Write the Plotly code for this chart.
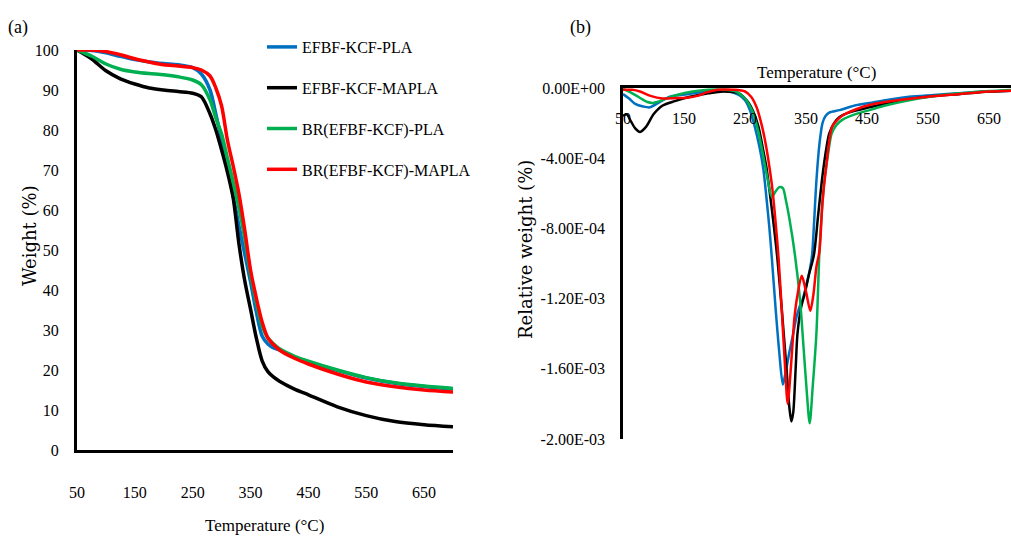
import plotly.graph_objects as go

# ---------------- Data ----------------
series_names = ["EFBF-KCF-PLA", "EFBF-KCF-MAPLA", "BR(EFBF-KCF)-PLA", "BR(EFBF-KCF)-MAPLA"]
series_colors = ["#0070C0", "#000000", "#00B050", "#FF0000"]

# (a) TGA: weight (%) vs temperature (°C)
tga_temp = [50, 75, 100, 125, 150, 175, 200, 225, 250, 265, 280, 290, 300, 310, 320,
            330, 340, 350, 360, 370, 380, 390, 400, 425, 450, 500, 550, 600, 650, 700]
tga_pla = [100, 99.9, 99.3, 98.4, 97.6, 97.0, 96.6, 96.3, 95.6, 94.0, 90.0, 84.0, 77.5, 71.0, 63.5,
           56.0, 49.0, 42.0, 34.5, 28.5, 26.5, 25.5, 25.0, 23.3, 22.0, 19.9, 18.0, 16.7, 15.9, 15.3]
tga_mapla = [100, 97.8, 94.8, 92.8, 91.5, 90.5, 90.0, 89.6, 89.2, 88.3, 84.0, 80.0, 75.0, 69.5, 63.0,
             51.5, 42.3, 35.2, 28.0, 22.3, 19.6, 18.2, 17.2, 15.3, 13.8, 10.8, 8.6, 7.1, 6.3, 5.8]
tga_br_pla = [100, 98.5, 96.5, 95.2, 94.5, 94.1, 93.8, 93.3, 92.5, 91.3, 87.5, 83.0, 79.0, 73.0, 67.0,
              60.5, 53.0, 44.0, 37.0, 31.0, 28.0, 26.5, 25.3, 23.5, 22.2, 20.0, 18.1, 16.8, 16.0, 15.4]
tga_br_mapla = [100, 100, 99.6, 98.8, 97.8, 97.0, 96.3, 96.0, 95.6, 95.0, 93.5, 90.5, 86.0, 77.5, 71.0,
                64.0, 55.0, 45.0, 38.0, 32.0, 28.0, 26.3, 25.0, 23.0, 21.5, 19.0, 17.0, 15.8, 15.0, 14.5]

# (b) DTG: relative weight (%) vs temperature (°C)
dtg_pla_temp = [50, 60, 70, 83, 94, 110, 127, 155, 185, 210, 225, 240, 250, 258, 266, 274, 280, 285,
                290, 294, 300, 306, 312, 316, 323, 329, 334, 339, 344, 350, 356, 360, 363, 367, 372,
                377, 382, 388, 405, 430, 454, 480, 519, 560, 600, 650, 686]
dtg_pla = [-0.35e-4, -0.6e-4, -0.9e-4, -1.05e-4, -1.1e-4, -0.8e-4, -0.5e-4, -0.35e-4, -0.2e-4, -0.15e-4,
           -0.2e-4, -0.4e-4, -0.7e-4, -1.26e-4, -2.2e-4, -3.4e-4, -4.6e-4, -6.2e-4, -8.0e-4, -9.7e-4,
           -12.5e-4, -15.0e-4, -16.9e-4, -16.3e-4, -15.0e-4, -14.0e-4, -13.1e-4, -12.5e-4, -12.1e-4,
           -11.3e-4, -10.4e-4, -9.5e-4, -7.8e-4, -5.3e-4, -3.2e-4, -2.0e-4, -1.6e-4, -1.4e-4, -1.26e-4,
           -1.0e-4, -0.86e-4, -0.7e-4, -0.5e-4, -0.4e-4, -0.3e-4, -0.2e-4, -0.15e-4]

dtg_mapla_temp = [50, 56, 63, 70, 78, 88, 100, 115, 135, 160, 190, 215, 240, 255, 263, 272, 279, 285,
                  290, 296, 303, 310, 318, 323, 326, 329, 333, 336, 342, 348, 355, 363, 370, 377, 383,
                  388, 396, 405, 420, 454, 500, 550, 600, 650, 686]
dtg_mapla = [-1.6e-4, -1.5e-4, -1.9e-4, -2.3e-4, -2.5e-4, -2.2e-4, -1.5e-4, -1.0e-4, -0.75e-4, -0.5e-4,
             -0.3e-4, -0.2e-4, -0.3e-4, -0.8e-4, -1.3e-4, -2.2e-4, -3.4e-4, -4.5e-4, -5.8e-4, -7.5e-4,
             -9.7e-4, -12.5e-4, -16.0e-4, -18.3e-4, -19.0e-4, -18.5e-4, -16.0e-4, -14.0e-4, -12.5e-4,
             -11.7e-4, -10.6e-4, -9.5e-4, -7.2e-4, -5.0e-4, -3.5e-4, -2.6e-4, -2.0e-4, -1.65e-4, -1.4e-4,
             -1.1e-4, -0.75e-4, -0.5e-4, -0.35e-4, -0.2e-4, -0.15e-4]

dtg_br_pla_temp = [50, 60, 75, 90, 99, 110, 125, 138, 164, 190, 215, 235, 250, 263, 272, 279, 286, 294,
                   300, 306, 312, 317, 323, 331, 340, 346, 351, 356, 361, 367, 372, 376, 380, 386, 392,
                   400, 410, 430, 454, 480, 519, 573, 620, 686]
dtg_br_pla = [-0.05e-4, -0.2e-4, -0.5e-4, -0.8e-4, -0.85e-4, -0.75e-4, -0.55e-4, -0.4e-4, -0.2e-4, -0.1e-4,
              -0.1e-4, -0.2e-4, -0.6e-4, -1.4e-4, -2.5e-4, -3.7e-4, -5.0e-4, -6.2e-4, -5.9e-4, -5.65e-4,
              -5.7e-4, -6.4e-4, -7.5e-4, -9.3e-4, -12.0e-4, -14.8e-4, -17.2e-4, -19.1e-4, -17.0e-4,
              -14.0e-4, -9.3e-4, -7.0e-4, -5.3e-4, -3.8e-4, -2.6e-4, -2.1e-4, -1.8e-4, -1.5e-4, -1.26e-4,
              -1.0e-4, -0.7e-4, -0.4e-4, -0.25e-4, -0.12e-4]

dtg_br_mapla_temp = [50, 65, 78, 95, 115, 135, 155, 172, 187, 205, 230, 250, 260, 269, 278, 285, 290, 295,
                     300, 305, 310, 315, 320, 324, 328, 331, 336, 343, 350, 357, 362, 367, 372, 377, 383,
                     393, 405, 416, 454, 500, 550, 600, 650, 686]
dtg_br_mapla = [-0.1e-4, -0.1e-4, -0.2e-4, -0.45e-4, -0.6e-4, -0.58e-4, -0.55e-4, -0.45e-4, -0.25e-4,
                -0.1e-4, -0.1e-4, -0.2e-4, -0.5e-4, -1.1e-4, -2.2e-4, -3.4e-4, -4.5e-4, -5.8e-4, -7.6e-4,
                -9.7e-4, -12.5e-4, -15.5e-4, -18.0e-4, -16.5e-4, -14.5e-4, -13.1e-4, -11.8e-4, -10.7e-4,
                -11.6e-4, -12.7e-4, -11.8e-4, -10.2e-4, -9.3e-4, -6.5e-4, -4.5e-4, -2.2e-4, -1.7e-4,
                -1.45e-4, -0.97e-4, -0.7e-4, -0.5e-4, -0.35e-4, -0.2e-4, -0.15e-4]

temp_ticks = [50, 150, 250, 350, 450, 550, 650]
weight_ticks = [0, 10, 20, 30, 40, 50, 60, 70, 80, 90, 100]
dtg_tickvals = [0, -4e-4, -8e-4, -1.2e-3, -1.6e-3, -2e-3]
dtg_ticktext = ["0.00E+00", "-4.00E-04", "-8.00E-04", "-1.20E-03", "-1.60E-03", "-2.00E-03"]

# ---------------- Figure ----------------
W, H = 1011, 538
SERIF = "'Liberation Serif', 'Times New Roman', Times, serif"
WIDE_SERIF = "'DejaVu Serif', serif"

fig = go.Figure()

tga_sets = [tga_pla, tga_mapla, tga_br_pla, tga_br_mapla]
for name, color, ys in zip(series_names, series_colors, tga_sets):
    fig.add_trace(go.Scatter(
        x=tga_temp, y=ys, name=name, mode="lines",
        line=dict(color=color, width=3.5, shape="spline", smoothing=0.8),
        xaxis="x", yaxis="y", legendgroup=name, showlegend=True))

dtg_sets = [(dtg_pla_temp, dtg_pla), (dtg_mapla_temp, dtg_mapla),
            (dtg_br_pla_temp, dtg_br_pla), (dtg_br_mapla_temp, dtg_br_mapla)]
for name, color, (xs, ys) in zip(series_names, series_colors, dtg_sets):
    fig.add_trace(go.Scatter(
        x=xs, y=ys, name=name, mode="lines",
        line=dict(color=color, width=2.5, shape="spline", smoothing=0.8),
        xaxis="x2", yaxis="y2", legendgroup=name, showlegend=False))

tickfont = dict(family=SERIF, size=16, color="black")

fig.update_layout(
    width=W, height=H,
    margin=dict(l=0, r=0, t=0, b=0),
    paper_bgcolor="white", plot_bgcolor="white",
    font=dict(family=SERIF, color="black"),
    showlegend=True,
    legend=dict(x=262 / W, y=1 - 30 / H, xanchor="left", yanchor="top",
                font=dict(family=SERIF, size=16, color="black"),
                itemwidth=30, tracegroupgap=17, bgcolor="rgba(0,0,0,0)"),
    xaxis=dict(domain=[77 / W, 453 / W], range=[50, 700], anchor="y",
               tickvals=temp_ticks, showgrid=False, zeroline=False,
               showline=True, linecolor="black", linewidth=3, ticks="",
               tickfont=tickfont, ticklabelstandoff=26, automargin=False),
    yaxis=dict(domain=[1 - 450 / H, 1 - 50 / H], range=[0, 100], anchor="x",
               tickvals=weight_ticks, showgrid=False, zeroline=False,
               showline=True, linecolor="black", linewidth=3, ticks="",
               tickfont=tickfont, ticklabelstandoff=12, automargin=False),
    xaxis2=dict(domain=[623 / W, 1.0], range=[50, 686], anchor="y2", side="top",
                tickvals=temp_ticks, showgrid=False, zeroline=False,
                showline=True, linecolor="black", linewidth=3, ticks="",
                ticklabelposition="inside", ticklabeloverflow="allow",
                tickfont=tickfont, ticklabelstandoff=25, automargin=False),
    yaxis2=dict(domain=[1 - 439 / H, 1 - 88 / H], range=[-2e-3, 0], anchor="x2",
                tickvals=dtg_tickvals, ticktext=dtg_ticktext, showgrid=False,
                zeroline=False, showline=True, linecolor="black", linewidth=2.5,
                ticks="", tickfont=tickfont, ticklabelstandoff=12, automargin=False),
)

annots = [
    dict(text="(a)", x=18 / W, y=1 - 28 / H, font=dict(family=SERIF, size=18)),
    dict(text="(b)", x=580 / W, y=1 - 28 / H, font=dict(family=SERIF, size=18)),
    dict(text="Weight (%)", x=29 / W, y=1 - 236 / H, textangle=-90,
         font=dict(family=WIDE_SERIF, size=18)),
    dict(text="Relative weight (%)", x=525 / W, y=1 - 250 / H, textangle=-90,
         font=dict(family=WIDE_SERIF, size=18)),
    dict(text="Temperature (°C)", x=264 / W, y=1 - 525 / H, font=dict(family=SERIF, size=17)),
    dict(text="Temperature (°C)", x=816 / W, y=1 - 72 / H, font=dict(family=SERIF, size=17)),
]
for a in annots:
    a.update(xref="paper", yref="paper", showarrow=False, xanchor="center", yanchor="middle")
    a["font"]["color"] = "black"
    fig.add_annotation(**a)

fig.write_html("out.html")
